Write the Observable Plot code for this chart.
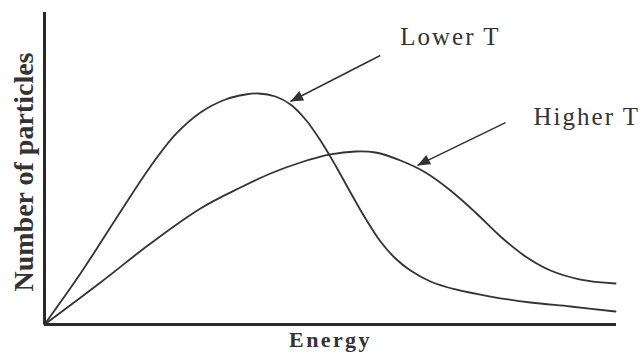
<!DOCTYPE html>
<html>
<head>
<meta charset="utf-8">
<script src="https://cdn.jsdelivr.net/npm/d3@7"></script>
<script src="https://cdn.jsdelivr.net/npm/@observablehq/plot@0.6"></script>
<style>
  html, body { margin: 0; padding: 0; background: #fff; }
</style>
</head>
<body>
<div id="chart"></div>
<script>
// Energy distribution curves (arbitrary units)
const lowerEnergy = [0, 6.29, 12.41, 18.53, 22.90, 27.27, 31.64, 35.14, 37.41, 40.38, 43.01, 45.63, 48.25, 50.87, 53.50, 56.12, 58.74, 61.36, 63.99, 67.48, 71.85, 77.97, 84.97, 91.96, 99.83];
const lowerCount  = [0, 16.35, 33.65, 50.64, 60.90, 67.95, 72.12, 73.72, 74.04, 73.08, 70.51, 65.71, 58.97, 50.96, 42.31, 33.97, 26.60, 21.15, 17.31, 13.78, 11.22, 8.97, 7.05, 5.77, 4.17];
const higherEnergy = [0, 9.79, 18.53, 27.27, 34.27, 39.51, 44.76, 50.00, 54.37, 57.87, 62.24, 66.61, 70.98, 75.35, 79.72, 84.09, 88.46, 93.71, 99.83];
const higherCount  = [0, 13.46, 25.96, 37.18, 43.91, 48.40, 51.92, 54.49, 55.45, 55.13, 52.56, 48.72, 42.95, 35.90, 28.21, 21.79, 17.31, 14.42, 13.14];

// Annotation labels and arrows
const labels = ["Lower T", "Higher T"];
const labelX = [62.2, 85.5];
const labelY = [89.7, 64.1];
const arrowX1 = [58.7, 80.6];
const arrowY1 = [86.2, 64.7];
const arrowX2 = [43.0, 65.2];
const arrowY2 = [71.5, 51.0];

const xLabel = "Energy";
const yLabel = "Number of particles";

const lower = lowerEnergy.map((e, i) => ({energy: e, count: lowerCount[i]}));
const higher = higherEnergy.map((e, i) => ({energy: e, count: higherCount[i]}));
const notes = labels.map((t, i) => ({text: t, x: labelX[i], y: labelY[i], x1: arrowX1[i], y1: arrowY1[i], x2: arrowX2[i], y2: arrowY2[i]}));

// arrowhead symbol with its tip at the origin, pointing up
const arrowHead = {
  draw(context, size) {
    const L = Math.sqrt(size) * 0.75;
    const W = L * 0.42;
    context.moveTo(0, 0);
    context.lineTo(-W, L);
    context.lineTo(W, L);
    context.closePath();
  }
};

const ink = "#333";

const chart = Plot.plot({
  width: 642,
  height: 356,
  marginLeft: 44,
  marginRight: 26,
  marginTop: 12,
  marginBottom: 32,
  x: {domain: [0, 100], axis: null},
  y: {domain: [0, 100], axis: null},
  style: {fontFamily: "'Liberation Serif', serif", background: "#fff", color: ink},
  marks: [
    Plot.line(lower, {x: "energy", y: "count", curve: "catmull-rom", stroke: ink, strokeWidth: 1.8}),
    Plot.line(higher, {x: "energy", y: "count", curve: "catmull-rom", stroke: ink, strokeWidth: 1.8}),
    Plot.ruleX([0], {stroke: "#2a2a2a", strokeWidth: 3}),
    Plot.ruleY([0], {stroke: "#2a2a2a", strokeWidth: 3}),
    Plot.link(notes, {x1: "x1", y1: "y1", x2: "x2", y2: "y2", stroke: ink, strokeWidth: 1.6}),
    Plot.dot(notes, {x: "x2", y: "y2", symbol: arrowHead, r: 9.5, rotate: 243, fill: ink, stroke: "none"}),
    Plot.text(notes, {x: "x", y: "y", text: "text", textAnchor: "start", lineAnchor: "bottom", fontSize: 25, fill: ink}),
    Plot.text([xLabel], {frameAnchor: "bottom", dy: 22, lineAnchor: "bottom", fontSize: 22, fontWeight: "bold", fill: ink}),
    Plot.text([yLabel], {frameAnchor: "left", textAnchor: "middle", dx: -12, dy: 3.5, rotate: -90, lineAnchor: "bottom", fontSize: 28, fontWeight: "bold", fill: ink})
  ]
});
// letter spacing to match the wider serif face of the original
const spacing = new Map([[labels[0], "2px"], [labels[1], "2px"], [xLabel, "2.4px"]]);
d3.select(chart).selectAll("text").each(function () {
  const s = spacing.get(this.textContent);
  if (s) this.style.letterSpacing = s;
});
document.getElementById("chart").appendChild(chart);
</script>
</body>
</html>
